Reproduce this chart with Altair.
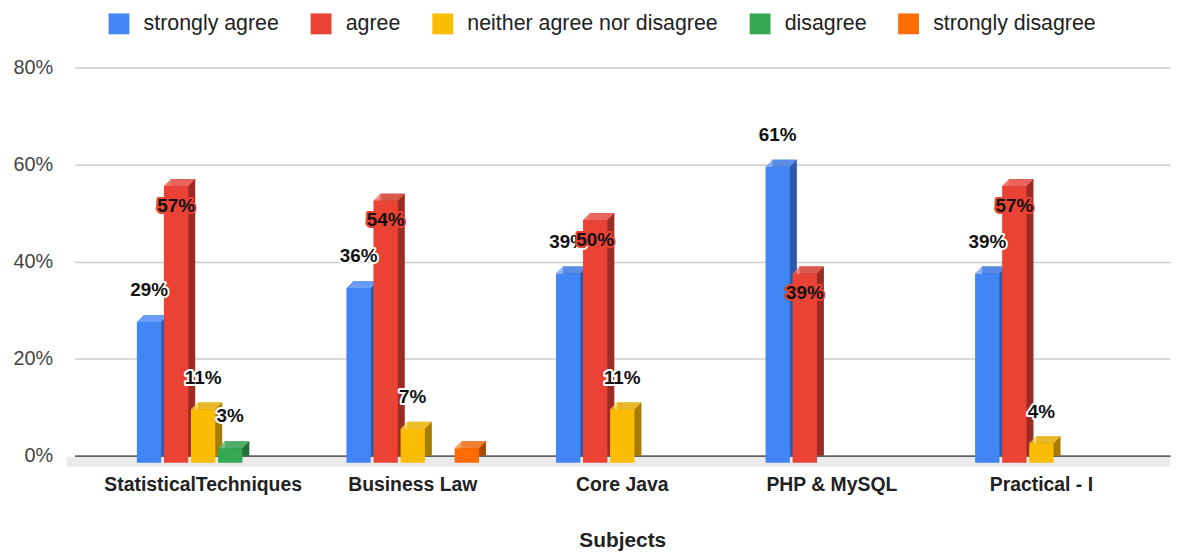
import altair as alt
import pandas as pd

subjects = ["StatisticalTechniques", "Business Law", "Core Java", "PHP & MySQL", "Practical - I"]
series = ["strongly agree", "agree", "neither agree nor disagree", "disagree", "strongly disagree"]
strongly_agree = [29, 36, 39, 61, 39]
agree = [57, 54, 50, 39, 57]
neither = [11, 7, 11, 0, 4]
disagree = [3, 0, 0, 0, 0]
strongly_disagree = [0, 3, 0, 0, 0]
unlabeled = [("Business Law", "strongly disagree")]
y_ticks = [0, 20, 40, 60, 80]

front_colors = ["#4285F4", "#EA4335", "#FBBC04", "#34A853", "#FF6D01"]
side_colors = ["#2B5AAB", "#9C2B23", "#A67C00", "#217038", "#AA4800"]
top_colors = ["#6A9DF7", "#EE6A5F", "#FDCB37", "#5CB875", "#FF8B3C"]

FONT = "Arial"
W, H = 1103, 391
PI, PO = 0.3673, 0.2974
step = W / (len(subjects) - PI + 2 * PO)
B = step * (1 - PI)
SLOT_PAD = 0.1
D = 7

values = [strongly_agree, agree, neither, disagree, strongly_disagree]
rows = []
for si, s in enumerate(series):
    for ci, c in enumerate(subjects):
        v = values[si][ci]
        if v > 0:
            rows.append({"subject": c, "series": s, "value": v,
                         "label": "" if (c, s) in unlabeled else f"{v}%"})
df = pd.DataFrame(rows)

x_enc = alt.X("subject:N", sort=subjects,
              scale=alt.Scale(domain=subjects, paddingInner=PI, paddingOuter=PO),
              title="Subjects",
              axis=alt.Axis(labelAngle=0, labelFont=FONT, labelFontSize=19.5, labelFontWeight="bold",
                            labelColor="#222222", labelPadding=20, labelLimit=400, ticks=False,
                            domain=True, domainColor="#333333", domainWidth=1.5,
                            titleFont=FONT, titleFontSize=21, titleFontWeight="bold",
                            titleColor="#222222", titlePadding=36))
y_enc = alt.Y("value:Q", scale=alt.Scale(domain=[0, 80], nice=False),
              axis=alt.Axis(values=y_ticks, labelExpr="datum.value + '%'", title=None,
                            ticks=False, domain=False, grid=True, gridColor="#cccccc",
                            gridWidth=1.5, labelFont=FONT, labelFontSize=20,
                            labelColor="#444444", labelPadding=22))


def off(shift):
    return alt.XOffset("series:N", sort=series,
                       scale=alt.Scale(type="band", domain=series, range=[shift, B + shift],
                                       paddingInner=SLOT_PAD, paddingOuter=0))


def col(rng, legend=None):
    if legend is None:
        return alt.Color("series:N", sort=series, scale=alt.Scale(domain=series, range=rng), legend=None)
    return alt.Color("series:N", sort=series, scale=alt.Scale(domain=series, range=rng), legend=legend)


base = alt.Chart(df)

floor = alt.Chart(pd.DataFrame({"v": [0]})).mark_rect(
    color="#ebebeb", yOffset=1, y2Offset=11
).encode(x=alt.value(-8), x2=alt.value(W), y=alt.datum(0), y2=alt.datum(0))

# back face (visible as the dark right side)
back = base.mark_bar().encode(x=x_enc, y=y_enc, xOffset=off(D), color=col(side_colors))

# top face: slanted strips, 1px each, from the back edge down to the front edge
tops = []
for k in range(D):
    tops.append(
        base.mark_bar(yOffset=k, y2Offset=k + 1).encode(
            x=x_enc, y=y_enc, y2=alt.Y2("value:Q"), xOffset=off(D - k - 0.5), color=col(top_colors))
    )

legend = alt.Legend(orient="none", legendX=34, legendY=-55, direction="horizontal", title=None,
                    symbolType="square", symbolSize=441, symbolStrokeWidth=0,
                    labelFont=FONT, labelFontSize=21.5, labelColor="#222222", labelOffset=14,
                    columnPadding=31.5, padding=0, labelLimit=400)
front = base.mark_bar(yOffset=D, y2Offset=D).encode(
    x=x_enc, y=y_enc, xOffset=off(0), color=col(front_colors, legend))

txt = dict(font=FONT, fontSize=19, fontWeight="bold")
other = base.transform_filter(alt.datum.series != "agree")
red = base.transform_filter(alt.datum.series == "agree")
enc = dict(x=x_enc, y=y_enc, xOffset=off(0), text="label:N")
o_halo = other.mark_text(dy=-25, fill="white", stroke="white", strokeWidth=4, strokeJoin="round", **txt).encode(**enc)
o_text = other.mark_text(dy=-25, fill="#111111", **txt).encode(**enc)
r_halo = red.mark_text(dy=27, fill="#EA4335", stroke="#EA4335", strokeWidth=4, strokeJoin="round", **txt).encode(**enc)
r_text = red.mark_text(dy=27, fill="#111111", **txt).encode(**enc)

chart = alt.layer(floor, back, *tops, front, o_halo, o_text, r_halo, r_text).resolve_scale(
    xOffset="independent", color="independent"
).properties(
    width=W, height=H,
    autosize=alt.AutoSizeParams(type="none"),
    padding={"left": 67, "top": 58, "right": 2, "bottom": 95},
    background="white",
).configure_view(stroke=None)

chart.save("out.html", embed_options={"renderer": "svg", "actions": False})
